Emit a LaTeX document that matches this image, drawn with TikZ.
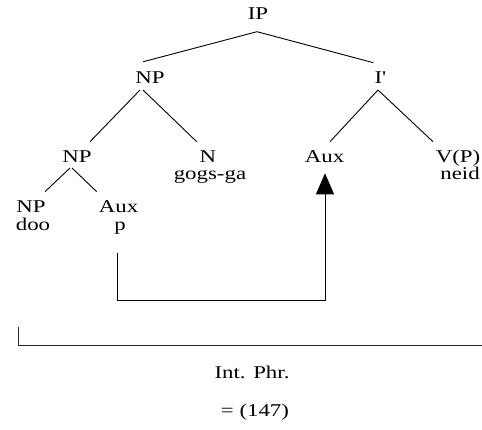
\documentclass[tikz,border=0pt]{standalone}
\usepackage{fontspec}
\setmainfont{Liberation Serif}[FakeStretch=1.27]
\usetikzlibrary{arrows.meta,calc}
\begin{document}
\begin{tikzpicture}[x=1pt,y=-1pt,
  lbl/.style={anchor=base,inner sep=0pt,font=\fontsize{18}{18}\selectfont},
  branch/.style={line width=0.9pt,line cap=butt},
  move/.style={line width=0.9pt,-{Triangle[length=21pt,width=18pt]}},
  bracketline/.style={line width=0.9pt,draw=black!85}]
\useasboundingbox (0,0) rectangle (482,430);
% labels
\node[lbl] (IP) at (258,20) {IP};
\node[lbl] (NPa) at (150,84) {NP};
\node[lbl] (Ib) at (380,84) {I\textquotesingle};
\node[lbl] (NPc) at (77,163) {NP};
\node[lbl] (N) at (208,163) {N};
\node[lbl] (gg) at (210,180) {gogs-ga};
\node[lbl] (Aux) at (324.5,163) {Aux};
\node[lbl] (VP) at (458,163) {V(P)};
\node[lbl] (neid) at (460,180) {neid};
\node[lbl] (NPd) at (31,213) {NP};
\node[lbl] (doo) at (33,231) {doo};
\node[lbl] (Auxd) at (118.5,213) {Aux};
\node[lbl] (p) at (120,231) {p};
\node[lbl] (int) at (252,378) {Int. Phr.};
\node[lbl] (eq) at (255,416) {= (147)};
% branches
\draw[branch] ($(IP.base)+(-1,11.7)$) -- ($(NPa.base)+(-6.7,-22.3)$);
\draw[branch] ($(IP.base)+(-1,11.7)$) -- ($(Ib.base)+(-6.7,-21.3)$);
\draw[branch] ($(NPa.base)+(-10,6)$) -- ($(NPc.base)+(13,-21.3)$);
\draw[branch] ($(NPa.base)+(-7,6)$) -- ($(N.base)+(-11.3,-21.3)$);
\draw[branch] ($(Ib.base)+(-2,6)$) -- ($(Aux.base)+(5.5,-21.3)$);
\draw[branch] ($(Ib.base)+(-2,6)$) -- ($(VP.base)+(-25,-21.3)$);
\draw[branch] ($(NPc.base)+(-7,5)$) -- ($(NPd.base)+(14,-21.3)$);
\draw[branch] ($(NPc.base)+(-5,5)$) -- ($(Auxd.base)+(-21.8,-21.3)$);
% movement arrow
\draw[move] ($(p.base)+(-2.7,21.7)$) |- ($(Aux.base)+(0.5,137)$) -- ($(Aux.base)+(0.5,10.3)$);
% bracket
\coordinate (brL) at (18.3,326.7);
\coordinate (brR) at (482,345.7);
\draw[bracketline] (brL) |- (brR);
\end{tikzpicture}
\end{document}
